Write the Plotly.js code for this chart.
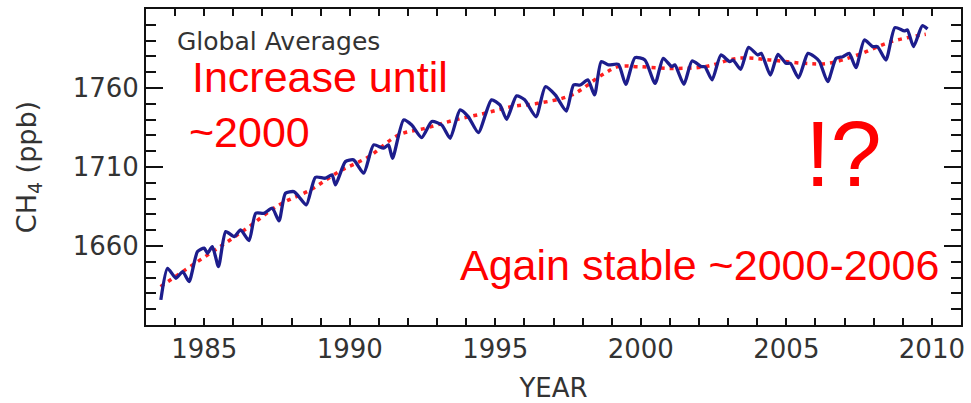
<!DOCTYPE html>
<html>
<head>
<meta charset="utf-8">
<script src="https://cdn.plot.ly/plotly-3.0.1.min.js"></script>
<style>html,body{margin:0;padding:0;background:#fff;}#chart{width:971px;height:403px;}</style>
</head>
<body>
<div id="chart"></div>
<script>
// Monthly-ish global average CH4 (blue)
const blueYear = [1983.51,1983.74,1984.03,1984.26,1984.48,1984.77,1985.00,1985.11,1985.28,1985.49,1985.74,1986.03,1986.25,1986.54,1986.77,1987.05,1987.34,1987.57,1987.79,1988.08,1988.25,1988.51,1988.82,1989.16,1989.39,1989.51,1989.85,1990.13,1990.48,1990.82,1991.16,1991.33,1991.47,1991.85,1992.13,1992.47,1992.82,1993.16,1993.45,1993.79,1994.07,1994.42,1994.87,1995.16,1995.39,1995.73,1996.01,1996.40,1996.72,1997.06,1997.44,1997.69,1997.92,1998.18,1998.41,1998.64,1998.89,1999.23,1999.48,1999.80,2000.14,2000.49,2000.77,2001.06,2001.17,2001.48,2001.76,2002.08,2002.20,2002.45,2002.75,2003.05,2003.17,2003.43,2003.70,2004.02,2004.14,2004.45,2004.71,2004.99,2005.14,2005.42,2005.74,2005.97,2006.14,2006.42,2006.71,2006.94,2007.16,2007.39,2007.68,2007.96,2008.13,2008.42,2008.73,2009.05,2009.16,2009.37,2009.67,2009.85];
const blueCH4 = [1625.9,1645.9,1639.6,1643.8,1637.5,1656.5,1658.6,1655.4,1659.6,1647.0,1669.1,1666.0,1670.2,1663.4,1680.7,1680.7,1683.9,1675.9,1693.4,1694.4,1691.3,1686.0,1703.5,1702.9,1705.0,1698.7,1713.4,1714.5,1706.1,1724.0,1721.9,1724.0,1715.5,1739.8,1736.6,1728.6,1738.8,1736.6,1728.2,1746.1,1741.9,1731.8,1752.5,1749.3,1740.2,1755.0,1752.5,1741.8,1760.8,1755.6,1745.4,1761.9,1761.9,1765.1,1755.6,1776.7,1774.6,1775.0,1762.3,1779.2,1777.7,1762.9,1778.8,1773.5,1774.6,1762.3,1777.1,1773.5,1773.5,1765.1,1780.9,1776.7,1777.7,1771.8,1785.7,1780.9,1781.9,1768.2,1781.3,1775.6,1775.6,1766.5,1781.9,1779.8,1776.7,1764.0,1778.8,1779.8,1781.9,1772.9,1790.4,1786.2,1786.2,1777.7,1798.2,1796.1,1796.7,1786.2,1799.4,1797.3];
// Deseasonalized trend (red dashed)
const trendYear = [1983.50,1984.60,1985.63,1986.54,1987.57,1988.65,1989.62,1990.65,1991.68,1992.59,1993.62,1994.64,1995.56,1996.47,1997.63,1998.66,1999.23,1999.90,2001.06,2002.20,2003.34,2004.48,2005.62,2006.42,2007.45,2008.59,2009.79];
const trendCH4 = [1634.3,1648.0,1660.6,1672.2,1686.0,1695.5,1707.0,1716.5,1730.3,1734.5,1739.8,1744.0,1748.2,1750.3,1755.6,1768.2,1773.5,1773.5,1772.4,1773.5,1778.8,1777.7,1775.6,1775.6,1780.9,1789.3,1794.0];

const yTickVals = [1660, 1710, 1760];
const xTickVals = [1985, 1990, 1995, 2000, 2005, 2010];

const axisFont = {family: 'DejaVu Sans, sans-serif', size: 26, color: '#333'};
const redFont = (s) => ({family: 'Liberation Sans, Arial, sans-serif', size: s, color: '#ff0000'});

const traces = [
  {x: trendYear, y: trendCH4, mode: 'lines', line: {color: '#ff2020', width: 3.5, dash: '4px,5px', shape: 'spline'}, hoverinfo: 'skip'},
  {x: blueYear, y: blueCH4, mode: 'lines', line: {color: '#1d1d8c', width: 3.3, shape: 'spline', smoothing: 0.6}}
];

const layout = {
  width: 971, height: 403,
  margin: {l: 146, r: 10, t: 9, b: 78},
  paper_bgcolor: '#fff', plot_bgcolor: '#fff',
  showlegend: false,
  xaxis: {
    range: [1983, 2011], tickvals: xTickVals, ticktext: xTickVals.map(String),
    ticks: 'inside', ticklen: 7, tickwidth: 2, tickcolor: '#111',
    minor: {dtick: 1, tick0: 1983, ticks: 'inside', ticklen: 7, tickwidth: 2, tickcolor: '#111'},
    showline: true, linecolor: '#111', linewidth: 2, mirror: 'ticks',
    showgrid: false, zeroline: false, tickfont: axisFont,
    title: {text: 'YEAR', font: axisFont, standoff: 17}
  },
  yaxis: {
    range: [1610, 1810], tickvals: yTickVals, ticktext: yTickVals.map(String),
    ticks: 'inside', ticklen: 17, tickwidth: 2, tickcolor: '#111',
    minor: {dtick: 10, tick0: 1610, ticks: 'inside', ticklen: 10, tickwidth: 2, tickcolor: '#111'},
    showline: true, linecolor: '#111', linewidth: 2, mirror: 'ticks',
    showgrid: false, zeroline: false, tickfont: axisFont,
    title: {text: 'CH<sub>4</sub> (ppb)', font: {family: 'DejaVu Sans, sans-serif', size: 27, color: '#333'}, standoff: 28}
  },
  annotations: [
    {text: 'Global Averages', xref: 'paper', yref: 'paper', x: 0.0356, y: 0.8956, xanchor: 'left', yanchor: 'middle', showarrow: false, font: {family: 'DejaVu Sans, sans-serif', size: 25, color: '#333'}},
    {text: 'Increase until', xref: 'paper', yref: 'paper', x: 0.054, y: 0.785, xanchor: 'left', yanchor: 'middle', showarrow: false, font: redFont(43)},
    {text: '~2000', xref: 'paper', yref: 'paper', x: 0.0503, y: 0.612, xanchor: 'left', yanchor: 'middle', showarrow: false, font: redFont(43)},
    {text: 'Again stable ~2000-2006', xref: 'paper', yref: 'paper', x: 0.383, y: 0.19, xanchor: 'left', yanchor: 'middle', showarrow: false, font: redFont(43)},
    {text: '!?', xref: 'paper', yref: 'paper', x: 0.856, y: 0.54, xanchor: 'center', yanchor: 'middle', showarrow: false, font: redFont(92)}
  ]
};

Plotly.newPlot('chart', traces, layout, {displayModeBar: false, staticPlot: true});
</script>
</body>
</html>
